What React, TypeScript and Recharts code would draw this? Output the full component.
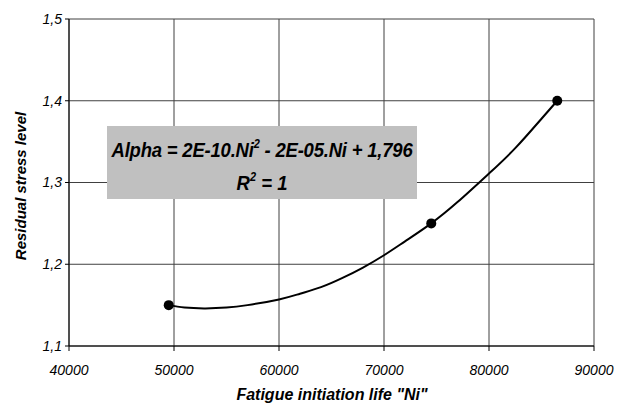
import React from 'react';
import { ComposedChart, XAxis, YAxis, CartesianGrid, Line, Scatter } from 'recharts';

const xTicks = [40000, 50000, 60000, 70000, 80000, 90000];
const yTicks = [1.1, 1.2, 1.3, 1.4, 1.5];

const pointNi = [49500, 74500, 86500];
const pointAlpha = [1.15, 1.25, 1.4];

const trendNi = [49500, 51000, 53000, 55000, 57000, 60000, 62000, 64000, 66000, 68000, 70000, 72000, 74500, 77000, 80000, 82500, 85000, 86500];
const trendAlpha = [1.15, 1.147, 1.146, 1.147, 1.15, 1.157, 1.164, 1.172, 1.183, 1.196, 1.211, 1.228, 1.25, 1.276, 1.311, 1.342, 1.378, 1.4];

const points = pointNi.map((x, i) => ({ x, y: pointAlpha[i] }));
const trend = trendNi.map((x, i) => ({ x, y: trendAlpha[i] }));

const FONT = 'Arial, "Liberation Sans", sans-serif';

export default function App() {
  return (
    <div style={{ position: 'absolute', left: 0, top: 0, width: 626, height: 405, background: '#fff' }}>
      <ComposedChart width={626} height={405} margin={{ top: 19, right: 32, left: 0, bottom: 0 }}>
        <CartesianGrid stroke="#404040" strokeWidth={1} />
        <XAxis
          type="number"
          dataKey="x"
          domain={[40000, 90000]}
          ticks={xTicks}
          allowDataOverflow
          height={59}
          stroke="#000"
          tickSize={5}
          tick={{ fill: '#000', fontSize: 14, fontStyle: 'italic', fontFamily: FONT }}
          tickMargin={14}
        />
        <YAxis
          type="number"
          dataKey="y"
          domain={[1.1, 1.5]}
          ticks={yTicks}
          allowDataOverflow
          width={69}
          stroke="#000"
          tickSize={4}
          tickMargin={3}
          tick={{ fill: '#000', fontSize: 14, fontStyle: 'italic', fontFamily: FONT }}
          tickFormatter={(v: number) => v.toFixed(1).replace('.', ',')}
        />
        <Line
          data={trend}
          dataKey="y"
          type="natural"
          stroke="#000"
          strokeWidth={2}
          dot={false}
          activeDot={false}
          isAnimationActive={false}
        />
        <Scatter
          data={points}
          dataKey="y"
          fill="#000"
          shape={(p: any) => <circle cx={p.cx} cy={p.cy} r={5} fill="#000" />}
          isAnimationActive={false}
        />
        <rect x={107} y={126} width={310} height={73} fill="#C0C0C0" />
        <g transform="translate(262,157) scale(1,1.12)">
          <text x={0} y={0} textAnchor="middle" fontFamily={FONT} fontWeight="bold" fontStyle="italic" fontSize={18.5} fill="#000" letterSpacing={-0.2}>
            Alpha = 2E-10.Ni<tspan dy={-8} fontSize={11}>2</tspan><tspan dy={8}> - 2E-05.Ni + 1,796</tspan>
          </text>
        </g>
        <g transform="translate(262,190) scale(1,1.12)">
          <text x={0} y={0} textAnchor="middle" fontFamily={FONT} fontWeight="bold" fontStyle="italic" fontSize={18.5} fill="#000">
            R<tspan dy={-8} fontSize={11}>2</tspan><tspan dy={8}> = 1</tspan>
          </text>
        </g>
        <text x={332} y={400} textAnchor="middle" fontFamily={FONT} fontWeight="bold" fontStyle="italic" fontSize={16} fill="#000">
          Fatigue initiation life "Ni"
        </text>
        <text x={0} y={0} transform="translate(26,186) rotate(-90)" textAnchor="middle" fontFamily={FONT} fontWeight="bold" fontStyle="italic" fontSize={15} fill="#000">
          Residual stress level
        </text>
      </ComposedChart>
    </div>
  );
}
